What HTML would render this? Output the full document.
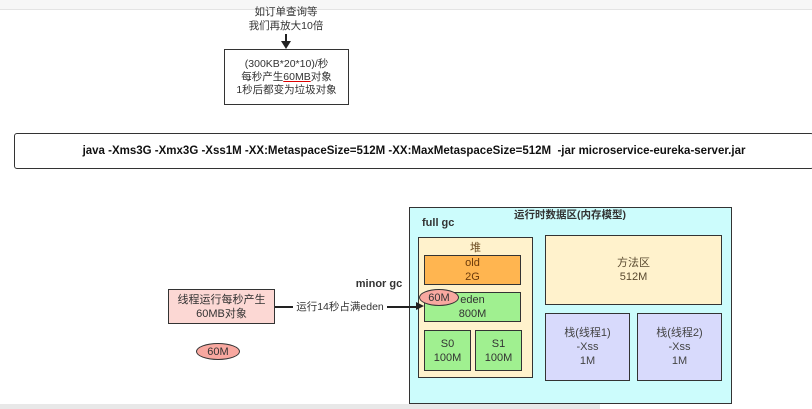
<!DOCTYPE html><html><head><meta charset="utf-8"><style>
body{margin:0;width:812px;height:409px;background:#fff;position:relative;overflow:hidden;font-family:"Liberation Sans","Noto Sans CJK SC",sans-serif;}
.a{position:absolute;box-sizing:border-box;display:flex;align-items:center;justify-content:center;text-align:center;font-size:11px;line-height:14px;color:#333;}
</style></head><body>
<div style="position:absolute;left:0;top:0;width:812px;height:9px;background:#f7f7f7;border-bottom:1px solid #e4e4e4"></div>
<div class="a" style="left:226px;top:4px;width:120px;height:30px;font-size:10.5px;line-height:14px"><div>如订单查询等<br>我们再放大10倍</div></div>
<div style="position:absolute;left:285px;top:34px;width:1.5px;height:9px;background:#222"></div>
<div style="position:absolute;left:281px;top:41px;border-left:5px solid transparent;border-right:5px solid transparent;border-top:8px solid #222"></div>
<div class="a" style="left:224px;top:49px;width:125px;height:56px;border:1.5px solid #333;font-size:10.5px;line-height:13px"><div>(300KB*20*10)/秒<br>每秒产生<span style="text-decoration:underline;text-decoration-color:#d00">60MB</span>对象<br>1秒后都变为垃圾对象</div></div>
<div class="a" style="left:14px;top:133px;width:800px;height:36px;border:1.5px solid #333;border-radius:3px;font-weight:bold;font-size:11.5px;color:#111"><div>java -Xms3G -Xmx3G -Xss1M -XX:MetaspaceSize=512M -XX:MaxMetaspaceSize=512M &nbsp;-jar microservice-eureka-server.jar</div></div>
<div style="position:absolute;left:409px;top:207px;width:323px;height:197px;box-sizing:border-box;border:1.5px solid #333;background:#ccfcfc"></div>
<div class="a" style="left:480px;top:208px;width:180px;height:14px;font-weight:bold;font-size:10.5px"><div>运行时数据区(内存模型)</div></div>
<div class="a" style="left:422px;top:216px;width:40px;height:14px;font-weight:bold;font-size:11px;justify-content:flex-start"><div>full gc</div></div>
<div class="a" style="left:418px;top:237px;width:115px;height:141px;border:1.5px solid #333;background:#fff2cc;align-items:flex-start;padding-top:3px;color:#6b4a1f"><div>堆</div></div>
<div class="a" style="left:424px;top:255px;width:97px;height:30px;border:1.5px solid #333;background:#ffb550;color:#6b3a0a"><div>old<br>2G</div></div>
<div class="a" style="left:424px;top:292px;width:97px;height:30px;border:1.5px solid #333;background:#a0f090"><div>eden<br>800M</div></div>
<div class="a" style="left:424px;top:330px;width:47px;height:41px;border:1.5px solid #333;background:#a0f090"><div>S0<br>100M</div></div>
<div class="a" style="left:475px;top:330px;width:47px;height:41px;border:1.5px solid #333;background:#a0f090"><div>S1<br>100M</div></div>
<div class="a" style="left:545px;top:235px;width:177px;height:70px;border:1.5px solid #333;background:#fff2cc;color:#5a4a30"><div>方法区<br>512M</div></div>
<div class="a" style="left:545px;top:313px;width:85px;height:68px;border:1.5px solid #333;background:#d8dafc;color:#444"><div>栈(线程1)<br>-Xss<br>1M</div></div>
<div class="a" style="left:637px;top:313px;width:85px;height:68px;border:1.5px solid #333;background:#d8dafc;color:#444"><div>栈(线程2)<br>-Xss<br>1M</div></div>
<div class="a" style="left:419px;top:289px;width:40px;height:17px;border:1.5px solid #333;border-radius:50%;background:#f8a8a0"><div>60M</div></div>
<div class="a" style="left:168px;top:289px;width:107px;height:35px;border:1.5px solid #333;background:#fcd8d4"><div>线程运行每秒产生<br>60MB对象</div></div>
<div style="position:absolute;left:275px;top:306px;width:143px;height:1.5px;background:#222"></div>
<div style="position:absolute;left:416px;top:302px;border-top:4.5px solid transparent;border-bottom:4.5px solid transparent;border-left:8px solid #222"></div>
<div class="a" style="left:293px;top:300px;width:94px;height:14px;background:#fff;font-size:10.5px"><div>运行14秒占满eden</div></div>
<div class="a" style="left:354px;top:277px;width:50px;height:14px;font-weight:bold;font-size:11px"><div>minor gc</div></div>
<div class="a" style="left:196px;top:343px;width:44px;height:17px;border:1.5px solid #333;border-radius:50%;background:#f8a8a0"><div>60M</div></div>
<div style="position:absolute;left:0;top:404px;width:600px;height:5px;background:#e8e8e8"></div>
</body></html>
